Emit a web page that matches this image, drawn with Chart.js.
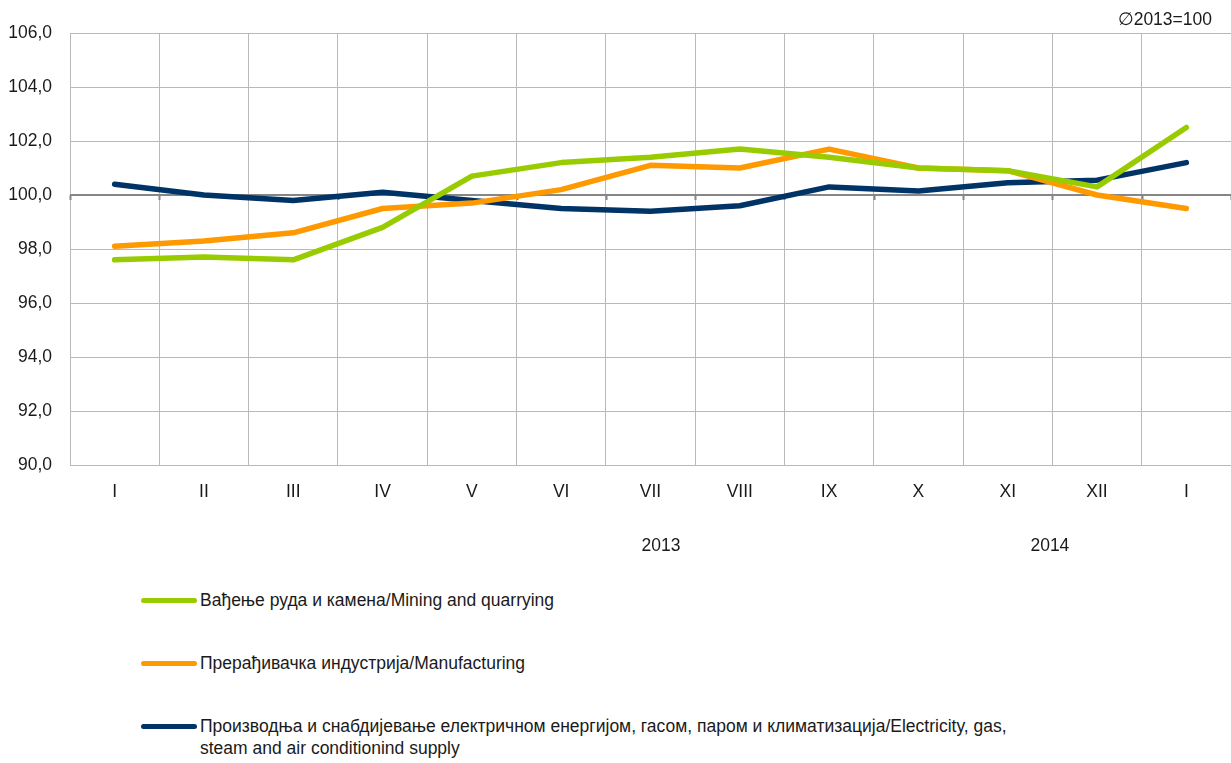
<!DOCTYPE html>
<html>
<head>
<meta charset="utf-8">
<script src="https://cdn.jsdelivr.net/npm/chart.js@4.4.1/dist/chart.umd.min.js"></script>
<style>
  html, body { margin: 0; padding: 0; background: #fff; }
  #wrap { position: relative; width: 1231px; height: 763px; overflow: hidden; }
  #c { position: absolute; left: 0; top: 0; }
  #legend { position: absolute; left: 141px; top: 589px; font-family: 'Liberation Sans Narrow', 'Arial Narrow', 'Liberation Sans', sans-serif; font-size: 17.5px; color: #1a1a1a; }
  .item { display: flex; align-items: flex-start; margin-bottom: 41px; }
  .sw { width: 56px; height: 5px; border-radius: 3px; margin-top: 9px; flex: none; }
  .txt { margin-left: 3px; max-width: 820px; line-height: 22px; }
</style>
</head>
<body>
<div id="wrap">
  <canvas id="c" width="1231" height="570"></canvas>
  <div id="legend"></div>
</div>
<script>
const categories = ['I','II','III','IV','V','VI','VII','VIII','IX','X','XI','XII','I'];
const yearLabels = ['2013','2014'];
const seriesNames = [
  'Вађење руда и камена/Mining and quarrying',
  'Прерађивачка индустрија/Manufacturing',
  'Производња и снабдијевање електричном енергијом, гасом, паром и климатизација/Electricity, gas, steam and air conditionind supply'
];
const mining        = [97.6, 97.7, 97.6, 98.8, 100.7, 101.2, 101.4, 101.7, 101.4, 101.0, 100.9, 100.3, 102.5];
const manufacturing = [98.1, 98.3, 98.6, 99.5, 99.7, 100.2, 101.1, 101.0, 101.7, 101.0, 100.9, 100.0, 99.5];
const electricity   = [100.4, 100.0, 99.8, 100.1, 99.8, 99.5, 99.4, 99.6, 100.3, 100.15, 100.45, 100.55, 101.2];
const baseNote = '\u22052013=100';
const colors = ['#99cc00', '#ff9900', '#003366'];

const FONT = "'Liberation Sans Narrow', 'Arial Narrow', 'Liberation Sans', sans-serif";

const extras = {
  id: 'extras',
  beforeDatasetsDraw(chart) {
    const ctx = chart.ctx;
    const y = chart.scales.y;
    const ca = chart.chartArea;
    const y100 = Math.round(y.getPixelForValue(100));
    ctx.save();
    ctx.strokeStyle = '#868686';
    ctx.lineWidth = 2;
    ctx.beginPath();
    ctx.moveTo(ca.left, y100);
    ctx.lineTo(ca.right, y100);
    const n = categories.length;
    for (let i = 0; i <= n; i++) {
      const px = Math.round(ca.left + (ca.right - ca.left) * i / n) + 0.5;
      ctx.moveTo(px, y100);
      ctx.lineTo(px, y100 + 5);
    }
    ctx.stroke();
    ctx.restore();
  },
  afterDraw(chart) {
    const ctx = chart.ctx;
    const ca = chart.chartArea;
    const w = ca.right - ca.left;
    ctx.save();
    ctx.fillStyle = '#1a1a1a';
    ctx.font = '17.5px ' + FONT;
    ctx.textBaseline = 'middle';
    ctx.textAlign = 'center';
    ctx.fillText(yearLabels[0], ca.left + w * 0.509, 546);
    ctx.fillText(yearLabels[1], ca.left + w * 0.844, 546);
    ctx.textAlign = 'right';
    ctx.fillText(baseNote, 1212, 20);
    ctx.restore();
  }
};

const ds = [mining, manufacturing, electricity].map((d, i) => ({
  label: seriesNames[i],
  data: d,
  borderColor: colors[i],
  backgroundColor: colors[i],
  borderWidth: 5.5,
  pointRadius: 0,
  pointHoverRadius: 0,
  tension: 0,
  borderCapStyle: 'round',
  borderJoinStyle: 'round',
  fill: false
}));

const chart = new Chart(document.getElementById('c'), {
  type: 'line',
  data: { labels: categories, datasets: ds },
  plugins: [extras],
  options: {
    responsive: false,
    animation: false,
    layout: { padding: { left: 0, right: 0, top: 33, bottom: 0 } },
    plugins: { legend: { display: false }, tooltip: { enabled: false } },
    scales: {
      x: {
        offset: true,
        grid: { offset: true, color: '#b9b9b9', lineWidth: 1, drawTicks: false },
        border: { display: false },
        ticks: { color: '#1a1a1a', font: { family: FONT, size: 17.5 }, padding: 17, maxRotation: 0, autoSkip: false },
        afterFit(s) { s.height = 105; }
      },
      y: {
        min: 90, max: 106,
        grid: { color: (c) => c.tick && c.tick.value === 100 ? 'rgba(0,0,0,0)' : '#b9b9b9', lineWidth: 1, drawTicks: false },
        border: { display: true, color: '#b9b9b9' },
        ticks: {
          stepSize: 2, color: '#1a1a1a', font: { family: FONT, size: 17.5 }, padding: 18,
          callback: (v) => v.toFixed(1).replace('.', ',')
        },
        afterFit(s) { s.width = 70; }
      }
    }
  }
});

const leg = document.getElementById('legend');
chart.data.datasets.forEach((d) => {
  const it = document.createElement('div');
  it.className = 'item';
  const sw = document.createElement('div');
  sw.className = 'sw';
  sw.style.background = d.borderColor;
  const t = document.createElement('div');
  t.className = 'txt';
  t.textContent = d.label;
  it.appendChild(sw); it.appendChild(t);
  leg.appendChild(it);
});
</script>
</body>
</html>
